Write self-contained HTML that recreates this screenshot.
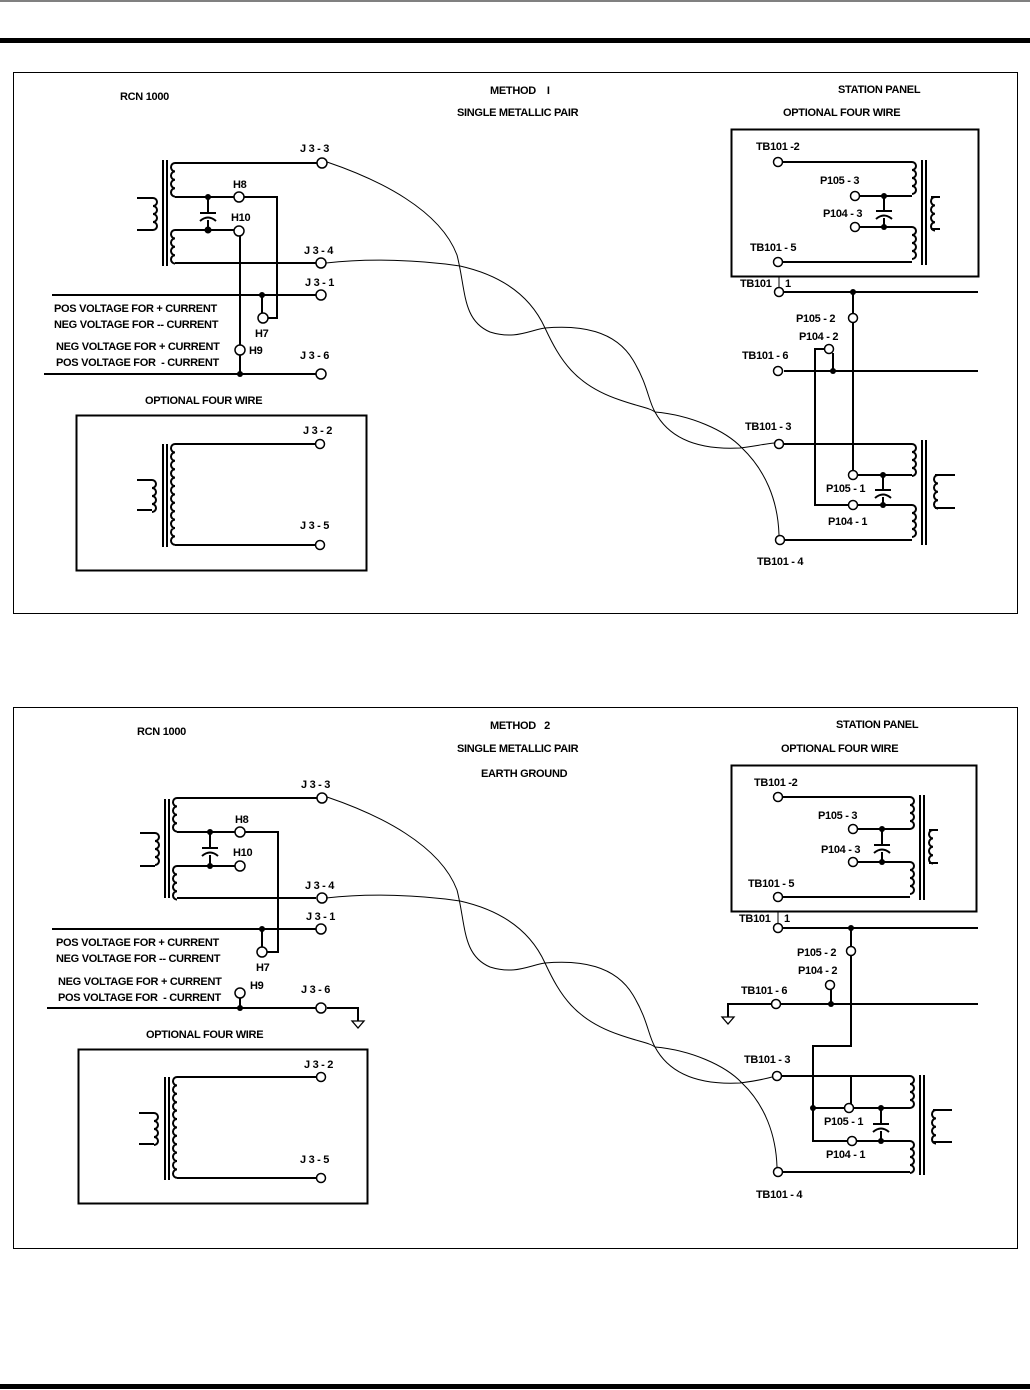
<!DOCTYPE html>
<html><head><meta charset="utf-8"><style>
html,body{margin:0;padding:0;background:#fff;width:1030px;height:1390px;overflow:hidden}
svg{display:block}
text{font-family:"Liberation Sans",Arial,sans-serif;font-weight:bold;font-size:11px;fill:#000;letter-spacing:-0.3px}
.w{stroke:#000;stroke-width:2;fill:none}
.t{stroke:#000;stroke-width:1;fill:none}
.c{stroke:#000;stroke-width:1.5;fill:#fff}
.d{fill:#000}
</style></head><body>
<svg width="1030" height="1390" viewBox="0 0 1030 1390" xmlns="http://www.w3.org/2000/svg">
<defs>
<path id="coilL" d="M0,0 a4,4.2 0 0 0 0,8.4 a4,4.2 0 0 0 0,8.4 a4,4.2 0 0 0 0,8.4 a4,4.2 0 0 0 0,8.4" class="w" stroke-width="1.5"/>
<path id="coilR" d="M0,0 a4,4 0 0 1 0,8 a4,4 0 0 1 0,8 a4,4 0 0 1 0,8 a4,4 0 0 1 0,8" class="w" stroke-width="1.5"/>
<path id="coilLong" d="M0,0 a4,4.2 0 0 0 0,8.4 a4,4.2 0 0 0 0,8.4 a4,4.2 0 0 0 0,8.4 a4,4.2 0 0 0 0,8.4 a4,4.2 0 0 0 0,8.4 a4,4.2 0 0 0 0,8.4 a4,4.2 0 0 0 0,8.4 a4,4.2 0 0 0 0,8.4 a4,4.2 0 0 0 0,8.4 a4,4.2 0 0 0 0,8.4 a4,4.2 0 0 0 0,8.4 a4,4.2 0 0 0 0,8.4" class="w" stroke-width="1.5"/>
<g id="cap"><line x1="-8" y1="0" x2="8" y2="0" class="w"/><path d="M-8,8 Q0,1 8,8" class="w"/></g>
<path id="gnd" d="M-6,0 L6,0 L0,7 Z" fill="#fff" stroke="#000" stroke-width="1.3"/>
</defs>

<line x1="0" y1="1" x2="1030" y2="1" stroke="#000" stroke-width="1"/>
<rect x="0" y="38" width="1030" height="5" fill="#000"/>
<rect x="0" y="1384" width="1030" height="5" fill="#000"/>

<!-- ========== PANEL 1 ========== -->
<rect x="13.5" y="72.5" width="1004" height="541" fill="none" stroke="#000" stroke-width="1"/>
<text x="120" y="100">RCN 1000</text>
<text x="490" y="94">METHOD &#160;&#160; I</text>
<text x="457" y="116">SINGLE METALLIC PAIR</text>
<text x="838" y="93">STATION PANEL</text>
<text x="783" y="116">OPTIONAL FOUR WIRE</text>

<!-- left transformer -->
<line x1="163" y1="160" x2="163" y2="266" class="w"/><line x1="167" y1="160" x2="167" y2="266" class="w"/>
<path d="M137,198 H153" class="w"/><path d="M137,230 H153" class="w"/>
<use href="#coilR" x="153" y="198"/>
<use href="#coilL" x="175" y="163"/>
<use href="#coilL" x="175" y="230"/>
<path d="M175,163 H318" class="w"/>
<path d="M175,197 H235" class="w"/>
<path d="M175,230 H235" class="w"/>
<path d="M175,263 H316" class="w"/>
<line x1="208" y1="197" x2="208" y2="213" class="w"/><line x1="208" y1="220" x2="208" y2="230" class="w"/>
<use href="#cap" x="208" y="213"/>
<circle cx="208" cy="197" r="3" class="d"/><circle cx="208" cy="230" r="3.5" class="d"/>
<path d="M244,197 H277 V318 H267" class="w"/>
<path d="M240,235 V345" class="w"/><path d="M240,355 V374" class="w"/>
<path d="M52,295 H316" class="w"/>
<path d="M262,295 V313" class="w"/><circle cx="262" cy="295" r="3" class="d"/>
<path d="M44,374 H316" class="w"/><circle cx="240" cy="374" r="3" class="d"/>
<circle cx="322" cy="163" r="5" class="c"/><circle cx="239" cy="197" r="5" class="c"/>
<circle cx="239" cy="231" r="5" class="c"/><circle cx="321" cy="263" r="5" class="c"/>
<circle cx="321" cy="295" r="5" class="c"/><circle cx="263" cy="318" r="5" class="c"/>
<circle cx="240" cy="350" r="5" class="c"/><circle cx="321" cy="374" r="5" class="c"/>
<text x="300" y="152">J 3 - 3</text>
<text x="233" y="188">H8</text>
<text x="231" y="221">H10</text>
<text x="304" y="254">J 3 - 4</text>
<text x="305" y="286">J 3 - 1</text>
<text x="255" y="337">H7</text>
<text x="249" y="354">H9</text>
<text x="300" y="359">J 3 - 6</text>
<text x="54" y="312">POS VOLTAGE FOR + CURRENT</text>
<text x="54" y="328">NEG VOLTAGE FOR -- CURRENT</text>
<text x="56" y="350">NEG VOLTAGE FOR + CURRENT</text>
<text x="56" y="366">POS VOLTAGE FOR &#160;- CURRENT</text>

<text x="145" y="404">OPTIONAL FOUR WIRE</text>
<rect x="76.5" y="415.5" width="290" height="155" fill="none" stroke="#000" stroke-width="2"/>
<line x1="163" y1="444" x2="163" y2="547" class="w"/><line x1="167" y1="444" x2="167" y2="547" class="w"/>
<path d="M137,480 H152" class="w"/><path d="M137,510 H152" class="w"/>
<use href="#coilR" x="152" y="480" transform="translate(0,0)"/>
<use href="#coilLong" x="175" y="444"/>
<path d="M175,444 H315" class="w"/><path d="M175,545 H315" class="w"/>
<circle cx="320" cy="444" r="4.5" class="c"/><circle cx="320" cy="545" r="4.5" class="c"/>
<text x="303" y="434">J 3 - 2</text>
<text x="300" y="529">J 3 - 5</text>

<!-- twisted pair -->
<path class="t" d="M327,162 C380,180 440,210 457,255 C466,290 462,320 490,332 C515,340 530,330 545,328 C560,360 575,385 620,400 C640,407 650,408 655,412 C670,440 700,450 740,448 C755,446 765,444 774,443"/>
<path class="t" d="M326,263 C370,258 420,260 460,266 C500,275 530,295 545,328 C580,325 615,330 633,360 C648,385 648,400 655,412 C690,415 725,430 742,448 C765,470 778,500 779,535"/>

<!-- station box -->
<rect x="731.5" y="129.5" width="247" height="147" fill="none" stroke="#000" stroke-width="2"/>
<text x="756" y="150">TB101 -2</text>
<text x="820" y="184">P105 - 3</text>
<text x="823" y="217">P104 - 3</text>
<text x="750" y="251">TB101 - 5</text>
<line x1="922" y1="160" x2="922" y2="265" class="w"/><line x1="926" y1="160" x2="926" y2="265" class="w"/>
<path d="M782,162 H912" class="w"/>
<use href="#coilR" x="912" y="162"/>
<path d="M860,196 H912" class="w"/>
<path d="M860,227 H912" class="w"/>
<use href="#coilR" x="912" y="227"/>
<path d="M782,262 H912" class="w"/>
<line x1="884" y1="196" x2="884" y2="211" class="w"/><line x1="884" y1="218" x2="884" y2="227" class="w"/>
<use href="#cap" x="884" y="211"/>
<circle cx="884" cy="196" r="3" class="d"/><circle cx="884" cy="227" r="3" class="d"/>
<path d="M940,197 H931" class="w"/><path d="M940,229 H931" class="w"/>
<use href="#coilL" x="935" y="197" transform="scale(1,1)"/>
<circle cx="778" cy="162" r="4.5" class="c"/><circle cx="855" cy="196" r="4.5" class="c"/>
<circle cx="855" cy="227" r="4.5" class="c"/><circle cx="778" cy="262" r="4.5" class="c"/>

<!-- below station box -->
<line x1="779" y1="277" x2="779" y2="288" stroke="#000" stroke-width="1"/>
<text x="740" y="287">TB101</text><text x="785" y="287">1</text>
<path d="M784,292 H978" class="w"/><circle cx="853" cy="292" r="3" class="d"/>
<path d="M853,292 V313" class="w"/><path d="M853,323 V470" class="w"/>
<text x="796" y="322">P105 - 2</text>
<text x="799" y="340">P104 - 2</text>
<path d="M824,349 H815 V505 H848" class="w"/>
<path d="M833,353 V371" class="w"/>
<text x="742" y="359">TB101 - 6</text>
<path d="M784,371 H978" class="w"/><circle cx="833" cy="371" r="3" class="d"/>
<text x="745" y="430">TB101 - 3</text>
<path d="M784,444 H912" class="w"/>
<use href="#coilR" x="912" y="444"/>
<path d="M858,475 H912" class="w"/>
<path d="M858,505 H912" class="w"/>
<use href="#coilR" x="912" y="505"/>
<path d="M784,540 H912" class="w"/>
<line x1="922" y1="440" x2="922" y2="545" class="w"/><line x1="926" y1="440" x2="926" y2="545" class="w"/>
<line x1="883" y1="475" x2="883" y2="490" class="w"/><line x1="883" y1="497" x2="883" y2="505" class="w"/>
<use href="#cap" x="883" y="490"/>
<circle cx="883" cy="475" r="3" class="d"/><circle cx="883" cy="505" r="3" class="d"/>
<path d="M955,475 H935" class="w"/><path d="M955,508 H935" class="w"/>
<use href="#coilL" x="938" y="475"/>
<text x="826" y="492">P105 - 1</text>
<text x="828" y="525">P104 - 1</text>
<text x="757" y="565">TB101 - 4</text>
<circle cx="779" cy="292" r="4.5" class="c"/><circle cx="853" cy="318" r="4.5" class="c"/>
<circle cx="829" cy="349" r="4.5" class="c"/><circle cx="778" cy="371" r="4.5" class="c"/>
<circle cx="779" cy="444" r="4.5" class="c"/><circle cx="853" cy="475" r="4.5" class="c"/>
<circle cx="853" cy="505" r="4.5" class="c"/><circle cx="780" cy="540" r="4.5" class="c"/>

<!-- ========== PANEL 2 ========== -->
<rect x="13.5" y="707.5" width="1004" height="541" fill="none" stroke="#000" stroke-width="1"/>
<text x="137" y="735">RCN 1000</text>
<text x="490" y="729">METHOD &#160; 2</text>
<text x="457" y="752">SINGLE METALLIC PAIR</text>
<text x="481" y="777">EARTH GROUND</text>
<text x="836" y="728">STATION PANEL</text>
<text x="781" y="752">OPTIONAL FOUR WIRE</text>

<line x1="165" y1="799" x2="165" y2="898" class="w"/><line x1="169" y1="799" x2="169" y2="898" class="w"/>
<path d="M140,833 H155" class="w"/><path d="M140,866 H155" class="w"/>
<use href="#coilR" x="155" y="833"/>
<use href="#coilL" x="177" y="798"/>
<use href="#coilL" x="177" y="866"/>
<path d="M177,798 H318" class="w"/>
<path d="M177,832 H236" class="w"/>
<path d="M177,866 H236" class="w"/>
<path d="M177,898 H316" class="w"/>
<line x1="210" y1="832" x2="210" y2="848" class="w"/><line x1="210" y1="855" x2="210" y2="866" class="w"/>
<use href="#cap" x="210" y="848"/>
<circle cx="210" cy="832" r="3" class="d"/><circle cx="210" cy="866" r="3" class="d"/>
<path d="M245,832 H278 V952 H267" class="w"/>
<path d="M52,929 H316" class="w"/>
<path d="M262,929 V947" class="w"/><circle cx="262" cy="929" r="3" class="d"/>
<path d="M47,1008 H316" class="w"/><path d="M240,998 V1008" class="w"/><circle cx="240" cy="1008" r="3" class="d"/>
<path d="M327,1008 H358 V1021" class="w"/><use href="#gnd" x="358" y="1021"/>
<circle cx="322" cy="798" r="5" class="c"/><circle cx="240" cy="832" r="5" class="c"/>
<circle cx="240" cy="866" r="5" class="c"/><circle cx="322" cy="898" r="5" class="c"/>
<circle cx="321" cy="929" r="5" class="c"/><circle cx="262" cy="952" r="5" class="c"/>
<circle cx="240" cy="993" r="5" class="c"/><circle cx="321" cy="1008" r="5" class="c"/>
<text x="301" y="788">J 3 - 3</text>
<text x="235" y="823">H8</text>
<text x="233" y="856">H10</text>
<text x="305" y="889">J 3 - 4</text>
<text x="306" y="920">J 3 - 1</text>
<text x="256" y="971">H7</text>
<text x="250" y="989">H9</text>
<text x="301" y="993">J 3 - 6</text>
<text x="56" y="946">POS VOLTAGE FOR + CURRENT</text>
<text x="56" y="962">NEG VOLTAGE FOR -- CURRENT</text>
<text x="58" y="985">NEG VOLTAGE FOR + CURRENT</text>
<text x="58" y="1001">POS VOLTAGE FOR &#160;- CURRENT</text>

<text x="146" y="1038">OPTIONAL FOUR WIRE</text>
<rect x="78.5" y="1049.5" width="289" height="154" fill="none" stroke="#000" stroke-width="2"/>
<line x1="165" y1="1077" x2="165" y2="1180" class="w"/><line x1="169" y1="1077" x2="169" y2="1180" class="w"/>
<path d="M139,1113 H154" class="w"/><path d="M139,1144 H154" class="w"/>
<use href="#coilR" x="154" y="1113"/>
<use href="#coilLong" x="177" y="1077"/>
<path d="M177,1077 H316" class="w"/><path d="M177,1178 H316" class="w"/>
<circle cx="321" cy="1077" r="4.5" class="c"/><circle cx="321" cy="1178" r="4.5" class="c"/>
<text x="304" y="1068">J 3 - 2</text>
<text x="300" y="1163">J 3 - 5</text>

<g transform="translate(0,635)">
<path class="t" d="M327,162 C380,180 440,210 457,255 C466,290 462,320 490,332 C515,340 530,330 545,328 C560,360 575,385 620,400 C640,407 650,408 655,412 C670,440 700,450 740,448 C755,446 765,444 772,442"/>
<path class="t" d="M326,263 C370,258 420,260 460,266 C500,275 530,295 545,328 C580,325 615,330 633,360 C648,385 648,400 655,412 C690,415 725,430 742,448 C765,470 776,500 777,532"/>
</g>

<rect x="731.5" y="765.5" width="245" height="146" fill="none" stroke="#000" stroke-width="2"/>
<text x="754" y="786">TB101 -2</text>
<text x="818" y="819">P105 - 3</text>
<text x="821" y="853">P104 - 3</text>
<text x="748" y="887">TB101 - 5</text>
<line x1="920" y1="795" x2="920" y2="900" class="w"/><line x1="924" y1="795" x2="924" y2="900" class="w"/>
<path d="M783,797 H910" class="w"/>
<use href="#coilR" x="910" y="797"/>
<path d="M858,829 H910" class="w"/>
<path d="M858,862 H910" class="w"/>
<use href="#coilR" x="910" y="862"/>
<path d="M783,897 H910" class="w"/>
<line x1="882" y1="829" x2="882" y2="845" class="w"/><line x1="882" y1="852" x2="882" y2="862" class="w"/>
<use href="#cap" x="882" y="845"/>
<circle cx="882" cy="829" r="3" class="d"/><circle cx="882" cy="862" r="3" class="d"/>
<path d="M938,830 H929" class="w"/><path d="M938,863 H929" class="w"/>
<use href="#coilL" x="933" y="830"/>
<circle cx="778" cy="797" r="4.5" class="c"/><circle cx="853" cy="829" r="4.5" class="c"/>
<circle cx="853" cy="862" r="4.5" class="c"/><circle cx="778" cy="897" r="4.5" class="c"/>

<line x1="778" y1="912" x2="778" y2="923" stroke="#000" stroke-width="1"/>
<text x="739" y="922">TB101</text><text x="784" y="922">1</text>
<path d="M783,928 H978" class="w"/><circle cx="851" cy="928" r="3" class="d"/>
<path d="M851,928 V946" class="w"/><path d="M851,956 V1046 H813 V1141 H847" class="w"/>
<text x="797" y="956">P105 - 2</text>
<text x="798" y="974">P104 - 2</text>
<path d="M831,990 V1004" class="w"/>
<text x="741" y="994">TB101 - 6</text>
<path d="M771,1004 H728 V1017" class="w"/><use href="#gnd" x="728" y="1017"/>
<path d="M781,1004 H978" class="w"/><circle cx="831" cy="1004" r="3" class="d"/>
<text x="744" y="1063">TB101 - 3</text>
<path d="M781,1076 H910" class="w"/>
<use href="#coilR" x="910" y="1076"/>
<path d="M851,1076 V1104" class="w"/>
<path d="M813,1108 H844" class="w"/><path d="M854,1108 H910" class="w"/>
<circle cx="813" cy="1108" r="3" class="d"/>
<path d="M857,1141 H910" class="w"/>
<use href="#coilR" x="910" y="1141"/>
<path d="M783,1172 H910" class="w"/>
<line x1="920" y1="1075" x2="920" y2="1175" class="w"/><line x1="924" y1="1075" x2="924" y2="1175" class="w"/>
<line x1="881" y1="1108" x2="881" y2="1124" class="w"/><line x1="881" y1="1131" x2="881" y2="1141" class="w"/>
<use href="#cap" x="881" y="1124"/>
<circle cx="881" cy="1108" r="3" class="d"/><circle cx="881" cy="1141" r="3" class="d"/>
<path d="M952,1110 H933" class="w"/><path d="M952,1142 H933" class="w"/>
<use href="#coilL" x="936" y="1110"/>
<text x="824" y="1125">P105 - 1</text>
<text x="826" y="1158">P104 - 1</text>
<text x="756" y="1198">TB101 - 4</text>
<circle cx="778" cy="928" r="4.5" class="c"/><circle cx="851" cy="951" r="4.5" class="c"/>
<circle cx="830" cy="985" r="4.5" class="c"/><circle cx="776" cy="1004" r="4.5" class="c"/>
<circle cx="777" cy="1076" r="4.5" class="c"/><circle cx="849" cy="1108" r="4.5" class="c"/>
<circle cx="852" cy="1141" r="4.5" class="c"/><circle cx="778" cy="1172" r="4.5" class="c"/>
</svg>
</body></html>
